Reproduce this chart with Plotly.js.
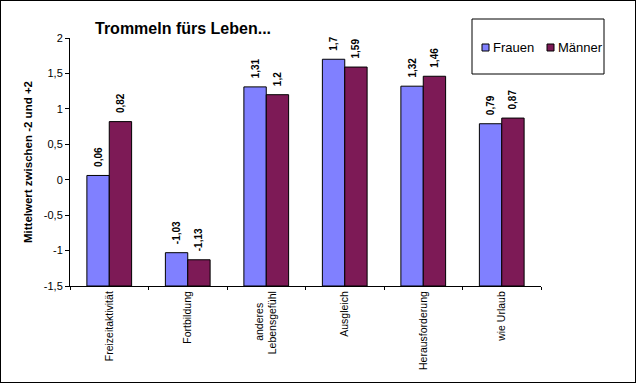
<!DOCTYPE html>
<html>
<head>
<meta charset="utf-8">
<script src="https://cdn.plot.ly/plotly-3.0.1.min.js"></script>
<style>
html,body{margin:0;padding:0;background:#fff;}
#wrap{position:relative;width:636px;height:383px;}
#chart{width:636px;height:383px;}
#frame{position:absolute;left:0;top:0;width:636px;height:383px;box-sizing:border-box;border:1px solid #000;pointer-events:none;}
</style>
</head>
<body>
<div id="wrap"><div id="chart"></div><div id="frame"></div></div>
<script>
var categories = ["Freizeitaktivität", "Fortbildung", "anderes\u00a0\u00a0\u00a0\u00a0<br>Lebensgefühl", "Ausgleich", "Herausforderung", "wie Urlaub"];
var frauen = [0.06, -1.03, 1.31, 1.7, 1.32, 0.79];
var maenner = [0.82, -1.13, 1.2, 1.59, 1.46, 0.87];
var seriesNames = ["Frauen", "Männer"];
var yTickVals = [-1.5, -1, -0.5, 0, 0.5, 1, 1.5, 2];
var yTickText = ["-1,5", "-1", "-0,5", "0", "0,5", "1", "1,5", "2"];
var axisBase = -1.5;

var FONT = "Liberation Sans, Arial, sans-serif";
var colF = "#8080FF", colM = "#7D1A56";

function fmt(v){ return "\u00a0\u00a0" + String(v).replace(".", ","); }

function barTrace(vals, name, color){
  return {
    type: "bar", name: name, x: categories,
    y: vals.map(function(v){ return v - axisBase; }),
    base: axisBase,
    text: vals.map(fmt),
    textposition: "outside", textangle: -90, constraintext: "none",
    textfont: {family: FONT, size: 10, color: "#000", weight: "bold"},
    cliponaxis: false,
    marker: {color: color, line: {color: "#000", width: 1}},
    hoverinfo: "skip", showlegend: false
  };
}

var data = [barTrace(frauen, seriesNames[0], colF), barTrace(maenner, seriesNames[1], colM)];

// legend (paper coordinates)
function px2x(p){ return (p - 70) / 471; }
function py2y(p){ return (286 - p) / 248; }

var shapes = [
  {type:"rect", xref:"paper", yref:"paper", x0:px2x(472), x1:px2x(604), y0:py2y(74), y1:py2y(19), line:{color:"#000", width:1}, fillcolor:"rgba(0,0,0,0)"},
  {type:"rect", xref:"paper", yref:"paper", x0:px2x(482), x1:px2x(489), y0:py2y(51), y1:py2y(44), line:{color:"#000", width:1}, fillcolor:colF},
  {type:"rect", xref:"paper", yref:"paper", x0:px2x(547), x1:px2x(554), y0:py2y(51), y1:py2y(44), line:{color:"#000", width:1}, fillcolor:colM}
];
var annotations = [
  {xref:"paper", yref:"paper", x:px2x(491), y:py2y(47.5), xanchor:"left", yanchor:"middle", text:seriesNames[0], showarrow:false, font:{family:FONT, size:13, color:"#000"}},
  {xref:"paper", yref:"paper", x:px2x(556), y:py2y(47.5), xanchor:"left", yanchor:"middle", text:seriesNames[1], showarrow:false, font:{family:FONT, size:13, color:"#000"}}
];

var layout = {
  width: 636, height: 383,
  margin: {l:70, r:95, t:38, b:97, pad:0},
  paper_bgcolor: "#fff", plot_bgcolor: "#fff",
  font: {family: FONT, color: "#000"},
  title: {text: "Trommeln fürs Leben...", x: 183/636, xanchor: "center", xref: "container",
          y: 1 - 28/383, yanchor: "middle", yref: "container",
          font: {family: FONT, size: 16, weight: "bold", color: "#000"}},
  barmode: "group", bargap: 0.43, bargroupgap: 0,
  showlegend: false,
  xaxis: {type: "category", showline: true, linecolor: "#000", linewidth: 1,
          ticks: "outside", ticklen: 3, tickcolor: "#000", tickson: "boundaries",
          tickangle: -90, tickfont: {family: FONT, size: 10.5, color: "#000"},
          showgrid: false, zeroline: false, fixedrange: true, automargin: false},
  yaxis: {range: [-1.5, 2], tickvals: yTickVals, ticktext: yTickText,
          showline: true, linecolor: "#000", linewidth: 1,
          ticks: "outside", ticklen: 4, tickcolor: "#000",
          tickfont: {family: FONT, size: 11, color: "#000"},
          showgrid: false, zeroline: false, fixedrange: true, automargin: false,
          title: {text: "Mittelwert zwischen -2 und +2", standoff: 8,
                  font: {family: FONT, size: 11.5, weight: "bold", color: "#000"}}},
  xaxis2: {overlaying: "x", anchor: "y", side: "bottom", range: [-0.5, 5.5], tick0: -0.5, dtick: 1,
           ticks: "inside", ticklen: 3, tickcolor: "#000", showticklabels: false,
           showline: false, showgrid: false, zeroline: false, fixedrange: true},
  yaxis2: {overlaying: "y", anchor: "x", side: "left", range: [-1.5, 2], tickvals: yTickVals,
           ticks: "inside", ticklen: 3, tickcolor: "#000", showticklabels: false,
           showline: false, showgrid: false, zeroline: false, fixedrange: true},
  shapes: shapes,
  annotations: annotations
};

Plotly.newPlot("chart", data, layout, {displayModeBar: false, staticPlot: true});
</script>
</body>
</html>
